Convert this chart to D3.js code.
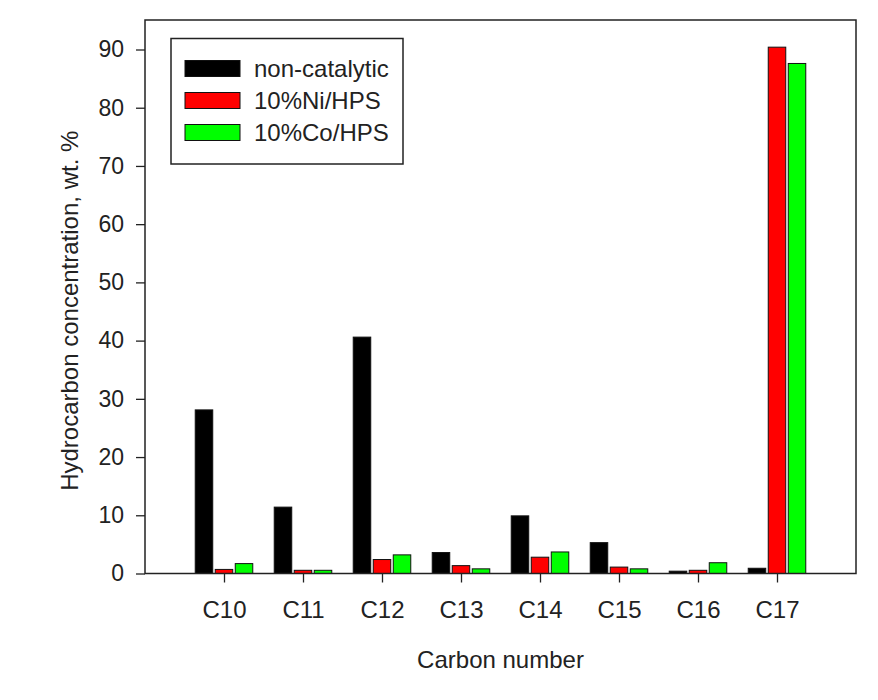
<!DOCTYPE html>
<html>
<head>
  <meta charset="UTF-8">
  <style>
body {
    margin: 0;
    padding: 0;
    background-color: white;
}
svg {
    display: block;
    font-family: "Liberation Sans", Arial, sans-serif;
}
  </style>
</head>
<body>
<svg></svg>

<script src="https://cdnjs.cloudflare.com/ajax/libs/d3/7.8.5/d3.min.js"></script>
<script>

// data
const carbonNumbers = [10, 11, 12, 13, 14, 15, 16, 17];
const seriesNames = ["non-catalytic", "10%Ni/HPS", "10%Co/HPS"];
const nonCatalytic = [28.1, 11.4, 40.6, 3.6, 9.9, 5.3, 0.4, 0.9];
const niHPS = [0.7, 0.55, 2.4, 1.35, 2.8, 1.1, 0.55, 90.4];
const coHPS = [1.7, 0.55, 3.2, 0.8, 3.7, 0.8, 1.85, 87.6];
const seriesColors = ["#000000", "#ff0000", "#00ff00"];
const yTicks = [0, 10, 20, 30, 40, 50, 60, 70, 80, 90];

let width = 878, height = 700;
let margin = { top: 20, right: 22, bottom: 126.5, left: 145 };

let svg = d3.select("svg")
    .attr("width", width)
    .attr("height", height);

let x = d3.scaleLinear()
    .domain([9, 18])
    .range([margin.left, width - margin.right]);

let y = d3.scaleLinear()
    .domain([0, 90])
    .range([height - margin.bottom, 49.5]);

// offset of each series inside a carbon-number group
let unit = x(1) - x(0);
let inner = d3.scaleBand()
    .domain(seriesNames)
    .range([-unit * 0.38, unit * 0.38])
    .paddingInner(0.125)
    .paddingOuter(0.0625);

let allSeries = [nonCatalytic, niHPS, coHPS];

let rows = [];
allSeries.forEach((vals, s) => {
  vals.forEach((v, i) => {
    rows.push({ series: seriesNames[s], color: seriesColors[s], c: carbonNumbers[i], v: v });
  });
});

const fontSize = 24;
const tickFont = 23;
const textColor = "#222";

// bars
svg.append("g")
  .selectAll("rect")
  .data(rows)
  .enter()
  .append("rect")
  .attr("x", d => x(d.c) + inner(d.series))
  .attr("width", inner.bandwidth())
  .attr("y", d => y(d.v))
  .attr("height", d => y(0) - y(d.v))
  .attr("fill", d => d.color)
  .attr("stroke", "#111")
  .attr("stroke-width", 1);

// y axis
let yAxis = svg.append("g")
  .attr("transform", `translate(${margin.left},0)`)
  .call(d3.axisLeft(y).tickValues(yTicks).tickSize(9).tickPadding(12));
yAxis.select(".domain").remove();
yAxis.selectAll("line").attr("stroke", "#222").attr("stroke-width", 1.3);
yAxis.selectAll("text")
  .attr("font-size", tickFont)
  .attr("font-family", "Liberation Sans, Arial, sans-serif")
  .attr("fill", textColor);

// x axis
let xAxis = svg.append("g")
  .attr("transform", `translate(0,${y(0)})`)
  .call(d3.axisBottom(x).tickValues(carbonNumbers).tickSize(9).tickPadding(18)
    .tickFormat(d => "C" + d));
xAxis.select(".domain").remove();
xAxis.selectAll("line").attr("stroke", "#222").attr("stroke-width", 1.3);
xAxis.selectAll("text")
  .attr("font-size", fontSize)
  .attr("font-family", "Liberation Sans, Arial, sans-serif")
  .attr("fill", textColor);

// frame
svg.append("rect")
  .attr("x", x.range()[0])
  .attr("y", margin.top)
  .attr("width", x.range()[1] - x.range()[0])
  .attr("height", y(0) - margin.top)
  .attr("fill", "none")
  .attr("stroke", "#222")
  .attr("stroke-width", 1.5);

// axis titles
svg.append("text")
  .attr("x", (x.range()[0] + x.range()[1]) / 2)
  .attr("y", 668)
  .attr("text-anchor", "middle")
  .attr("font-size", fontSize)
  .attr("fill", textColor)
  .text("Carbon number");

svg.append("text")
  .attr("transform", `translate(78, ${(margin.top + y(0)) / 2 + 14}) rotate(-90)`)
  .attr("text-anchor", "middle")
  .attr("font-size", fontSize)
  .attr("fill", textColor)
  .text("Hydrocarbon concentration, wt. %");

// legend
let legend = svg.append("g")
  .attr("transform", "translate(171, 38.5)");

legend.append("rect")
  .attr("width", 232)
  .attr("height", 125.5)
  .attr("fill", "white")
  .attr("stroke", "#222")
  .attr("stroke-width", 1.5);

let items = legend.selectAll(".item")
  .data(seriesNames)
  .enter()
  .append("g")
  .attr("transform", (d, i) => `translate(14, ${30 + i * 32})`);

items.append("rect")
  .attr("x", 0)
  .attr("y", -8)
  .attr("width", 55)
  .attr("height", 16)
  .attr("fill", (d, i) => seriesColors[i])
  .attr("stroke", "#111")
  .attr("stroke-width", 1);

items.append("text")
  .attr("x", 69)
  .attr("y", 0)
  .attr("dy", "0.35em")
  .attr("font-size", fontSize)
  .attr("fill", textColor)
  .text(d => d);

</script>
</body>
</html>
